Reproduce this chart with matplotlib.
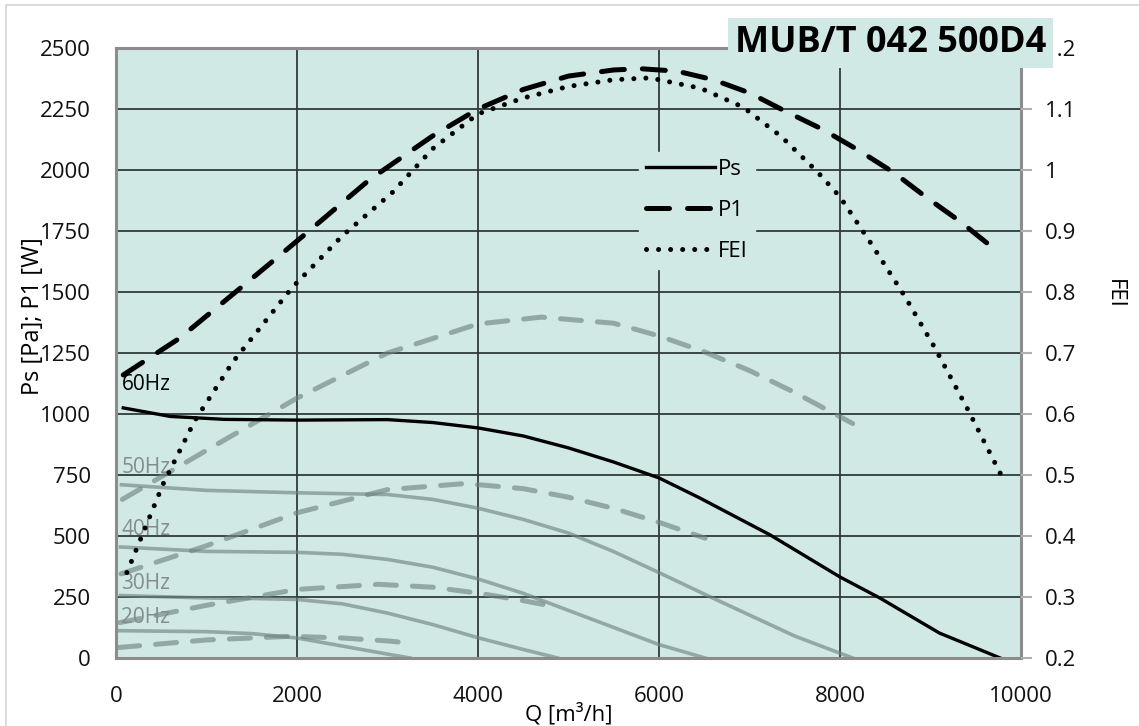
import matplotlib
matplotlib.use('Agg')
import matplotlib.pyplot as plt
from matplotlib.patches import Rectangle

# --- data ---
# 60 Hz (black)
q_ps60 = [80, 600, 1200, 2000, 3000, 3500, 4000, 4500, 5000, 5500, 6000, 6450, 7230, 8000, 8440, 9100, 9770]
ps60 = [1025, 990, 978, 975, 977, 965, 943, 910, 861, 803, 738, 656, 504, 332, 246, 102, 0]

q_p160 = [80, 700, 1420, 2100, 2800, 3500, 4000, 4500, 5000, 5500, 5800, 6200, 6600, 7000,
          7400, 7800, 8200, 8600, 8950, 9320, 9680, 9760]
p160 = [1160, 1310, 1530, 1740, 1960, 2140, 2250, 2330, 2385, 2410, 2415, 2405, 2370, 2316,
        2240, 2168, 2082, 1988, 1889, 1791, 1684, 1660]

q_fei = [120, 520, 870, 1290, 1945, 2500, 3060, 3500, 4000, 4500, 5000, 5500, 5900, 6460, 6930,
         7350, 7750, 8000, 8350, 8720, 9050, 9410, 9770]
fei = [0.34, 0.485, 0.589, 0.685, 0.807, 0.892, 0.964, 1.035, 1.092, 1.118, 1.137, 1.148, 1.151,
       1.134, 1.103, 1.055, 0.997, 0.956, 0.878, 0.792, 0.708, 0.608, 0.503]

# lower speeds (grey)
q_ps50 = [60, 1000, 2000, 3000, 3500, 4000, 4500, 5000, 5500, 6000, 6500, 7000, 7500, 8140]
ps50 = [710, 687, 677, 670, 650, 614, 568, 512, 436, 350, 262, 176, 90, 0]
q_ps40 = [50, 1000, 2000, 2500, 3000, 3500, 4000, 4500, 5000, 5500, 6000, 6510]
ps40 = [455, 437, 433, 425, 404, 372, 324, 265, 195, 125, 55, 0]
q_ps30 = [50, 1000, 1500, 2000, 2500, 3000, 3500, 4000, 4500, 4880]
ps30 = [256, 246, 244, 240, 222, 184, 137, 83, 35, 0]
q_ps20 = [40, 500, 1000, 1500, 2000, 2500, 3000, 3250]
ps20 = [112, 110, 108, 100, 82, 49, 16, 0]

q_p150 = [70, 1000, 2000, 3000, 4000, 4700, 5500, 6000, 6500, 7000, 7500, 8140]
p150 = [650, 851, 1065, 1250, 1369, 1397, 1372, 1320, 1255, 1178, 1088, 961]
q_p140 = [55, 1000, 2000, 3000, 3860, 4500, 5000, 5500, 6000, 6510]
p140 = [345, 460, 595, 690, 715, 694, 659, 613, 556, 491]
q_p130 = [40, 1000, 2000, 2900, 3500, 4000, 4500, 4880]
p130 = [145, 216, 281, 302, 290, 266, 235, 208]
q_p120 = [30, 1000, 1930, 2500, 3000, 3250]
p120 = [43, 74, 89, 82, 70, 61]

hz_labels = ['60Hz', '50Hz', '40Hz', '30Hz', '20Hz']
hz_label_y = [1119, 779, 525, 307, 164]

title = 'MUB/T 042 500D4'

# --- styling ---
plt.rcParams['font.family'] = ['Open Sans', 'DejaVu Sans']
bg = '#d0e9e5'
grey = '#6f8581'
grid_c = '#2f3a38'
spine_c = '#8c8c8c'

fig = plt.figure(figsize=(11.39, 7.26), dpi=100)
ax = fig.add_axes([116 / 1139, 1 - 658 / 726, 905 / 1139, 610 / 726])
ax.set_facecolor(bg)

# outer frame
fig.patches.append(Rectangle((6 / 1139, -0.1), 1.2, (721 / 726) + 0.1, transform=fig.transFigure,
                             fill=False, edgecolor='#d4d4d4', linewidth=1.2))

ax.set_xlim(0, 10000)
ax.set_ylim(0, 2500)
ax.set_xticks([0, 2000, 4000, 6000, 8000, 10000])
ax.set_yticks(range(0, 2501, 250))
ax.grid(True, color=grid_c, linewidth=1.3)
ax.set_axisbelow(True)
ax.tick_params(axis='both', length=0, labelsize=16, colors='#111111')
ax.tick_params(axis='x', pad=20)
ax.tick_params(axis='y', pad=18)
for s in ax.spines.values():
    s.set_color(spine_c)
    s.set_linewidth(2.2)

for q, v in [(q_ps50, ps50), (q_ps40, ps40), (q_ps30, ps30), (q_ps20, ps20)]:
    ax.plot(q, v, linewidth=2.6, color=grey, alpha=0.65)
for q, v in [(q_p150, p150), (q_p140, p140), (q_p130, p130), (q_p120, p120)]:
    ax.plot(q, v, linewidth=3.6, linestyle=(0, (4.2, 3.2)), color=grey, alpha=0.65,
            dash_capstyle='round')

l_ps, = ax.plot(q_ps60, ps60, color='black', linewidth=2.4, label='Ps')
l_p1, = ax.plot(q_p160, p160, color='black', linewidth=3.6, linestyle=(0, (4.6, 3.6)),
                dash_capstyle='round', label='P1')

ax2 = ax.twinx()
ax2.set_ylim(0.2, 1.2)
ax2.set_yticks([0.2, 0.3, 0.4, 0.5, 0.6, 0.7, 0.8, 0.9, 1.0, 1.1, 1.2])
ax2.set_yticklabels(['0.2', '0.3', '0.4', '0.5', '0.6', '0.7', '0.8', '0.9', '1', '1.1', '1.2'])
ax2.tick_params(axis='y', length=8, width=1.5, color='#b0b0b0', labelsize=16,
                labelcolor='#111111', pad=9)
for s in ax2.spines.values():
    s.set_visible(False)
l_fei, = ax2.plot(q_fei, fei, color='black', linewidth=3.6, linestyle=(0, (0.01, 2.4)),
                  dash_capstyle='round', label='FEI')

for lab, y in zip(hz_labels, hz_label_y):
    ax.text(60, y, lab, fontsize=15, color='black' if lab == '60Hz' else '#858c8b',
            ha='left', va='center', zorder=6)

leg = ax2.legend([l_ps, l_p1, l_fei], ['Ps', 'P1', 'FEI'], loc='upper left',
                 bbox_to_anchor=(0.566, 0.847), frameon=True, fontsize=16, handlelength=3.1,
                 handletextpad=0.15, labelspacing=0.9, borderpad=0.3)
leg.get_frame().set_facecolor(bg)
leg.get_frame().set_edgecolor(bg)
leg.get_frame().set_alpha(1)

ax.set_xlabel('Q [m³/h]', fontsize=16, va='top')
ax.xaxis.set_label_coords(0.5, -0.074)
ax.set_ylabel('Ps [Pa]; P1 [W]', fontsize=17)
ax.yaxis.set_label_coords(-0.078, 0.56)
ax2.set_ylabel('FEI', fontsize=16, rotation=270, va='center')
ax2.yaxis.set_label_coords(1.103, 0.597)

fig.text(890.5 / 1139, 1 - 43 / 726, title, fontsize=26, fontweight='bold', ha='center',
         va='center', color='black',
         bbox=dict(boxstyle='square,pad=0.2', facecolor=bg, edgecolor='none'), zorder=10)

fig.savefig('out.png', dpi=100, facecolor='white')
